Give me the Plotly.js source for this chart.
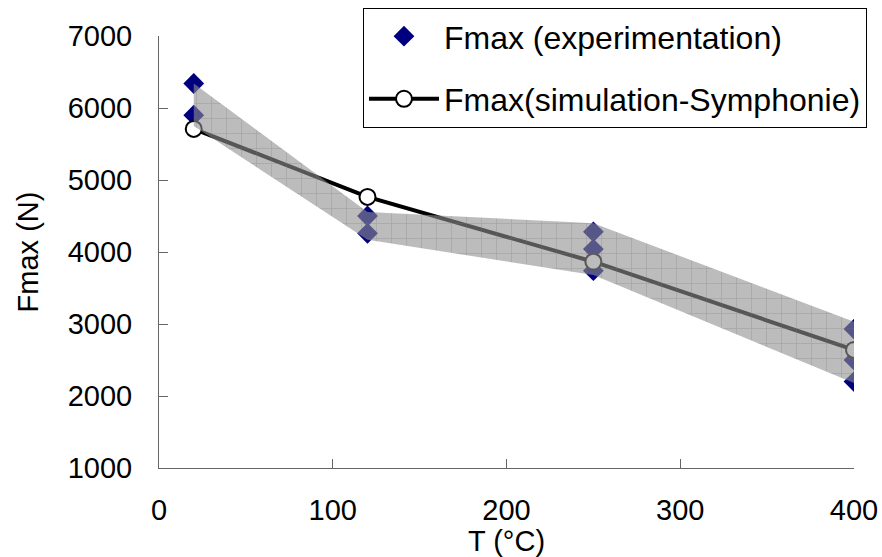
<!DOCTYPE html>
<html>
<head>
<meta charset="utf-8">
<script src="https://cdn.plot.ly/plotly-3.0.1.min.js"></script>
<style>html,body{margin:0;padding:0;background:#fff;}#chart{width:882px;height:557px;}</style>
</head>
<body>
<div id="chart"></div>
<script>
// Experimental Fmax measurements
const expT = [20, 20, 120, 120, 250, 250, 250, 400, 400, 400];
const expF = [6340, 5900, 4500, 4260, 4280, 4040, 3740, 2930, 2500, 2200];
// Simulation (Symphonie)
const simT = [20, 120, 250, 400];
const simF = [5710, 4765, 3865, 2640];
// Scatter band (upper and lower envelope)
const bandT = [20, 120, 250, 400];
const bandUpper = [6340, 4555, 4400, 3030];
const bandLower = [5750, 4170, 3680, 2180];

const bandX = bandT.concat(bandT.slice().reverse());
const bandY = bandUpper.concat(bandLower.slice().reverse());

const font = 'Liberation Sans, Arial, sans-serif';

const traces = [
  {
    x: expT, y: expF, type: 'scatter', mode: 'markers',
    name: 'Fmax (experimentation)', legendgroup: 'a',
    marker: {symbol: 'diamond', size: 16, color: '#00007f', line: {width: 0}}
  },
  {
    x: simT, y: simF, type: 'scatter', mode: 'lines+markers',
    name: 'Fmax(simulation-Symphonie)', legendgroup: 'b',
    line: {color: '#000000', width: 4},
    marker: {symbol: 'circle', size: 16, color: '#ffffff', line: {color: '#000000', width: 2}}
  },
  {
    x: bandX, y: bandY, type: 'scatter', mode: 'lines',
    fill: 'toself', showlegend: false, hoverinfo: 'skip', legendgroup: 'c',
    line: {width: 0, color: 'rgba(0,0,0,0)'},
    fillcolor: 'rgba(144,144,144,0.6)',
    fillpattern: {shape: '+', size: 15, solidity: 0.08, bgcolor: 'rgba(144,144,144,0.6)', fgcolor: 'rgba(115,115,115,0.75)', fillmode: 'overlay'}
  }
];

const layout = {
  width: 882, height: 557,
  margin: {l: 159, r: 28, t: 36, b: 89, autoexpand: false},
  paper_bgcolor: '#ffffff', plot_bgcolor: '#ffffff',
  font: {family: font, color: '#000', size: 29},
  showlegend: true,
  legend: {
    x: 0.2935, y: 1.065, xanchor: 'left', yanchor: 'top',
    bordercolor: '#000', borderwidth: 1, bgcolor: '#fff',
    font: {family: font, size: 32, color: '#000'},
    traceorder: 'grouped', tracegroupgap: 18, itemwidth: 70
  },
  xaxis: {
    range: [0, 400], tickvals: [0, 100, 200, 300, 400],
    showgrid: false, zeroline: false,
    showline: true, linecolor: '#666', linewidth: 1,
    ticks: 'inside', ticklen: 9, tickcolor: '#666',
    ticklabelstandoff: 16,
    tickfont: {family: font, size: 29, color: '#000'},
    title: {text: 'T (°C)', font: {family: font, size: 29, color: '#000'}, standoff: 0}
  },
  yaxis: {
    range: [1000, 7000], tickvals: [1000, 2000, 3000, 4000, 5000, 6000, 7000],
    showgrid: false, zeroline: false,
    showline: true, linecolor: '#666', linewidth: 1,
    ticks: 'inside', ticklen: 9, tickcolor: '#666',
    ticklabelstandoff: 20,
    tickfont: {family: font, size: 29, color: '#000'},
    title: {text: 'Fmax (N)', font: {family: font, size: 29, color: '#000'}, standoff: 20}
  }
};

Plotly.newPlot('chart', traces, layout, {displayModeBar: false, staticPlot: true});
</script>
</body>
</html>
